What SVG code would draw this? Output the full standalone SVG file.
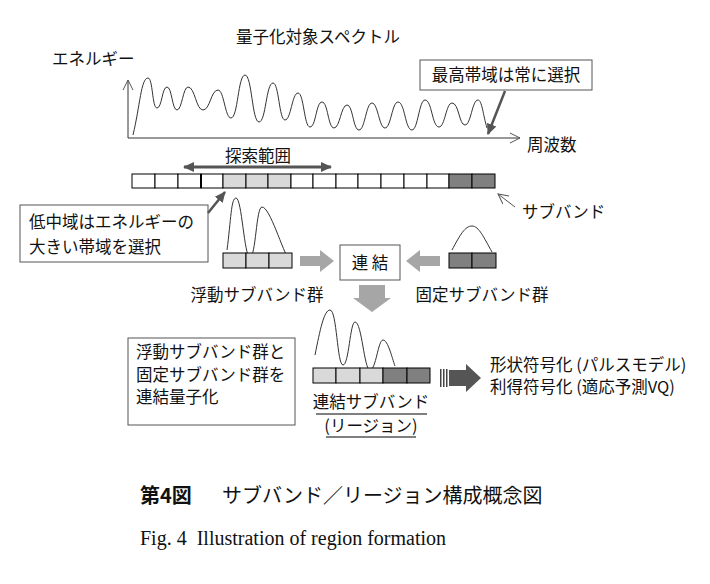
<svg xmlns="http://www.w3.org/2000/svg" width="710" height="584" viewBox="0 0 710 584">
<style>
text{font-family:"Noto Sans CJK JP","Liberation Sans",sans-serif;fill:#111}
.t{font-size:16.5px}
.w{fill:none;stroke:#333;stroke-width:1}
.c{stroke:#000;stroke-width:1}
.box{fill:#fff;stroke:#555;stroke-width:1}
.g1{fill:#d9d9d9}.g0{fill:#fff}.g2{fill:#808080}
.gy{fill:#a6a6a6}
</style>
<defs>
<marker id="oa" markerWidth="12" markerHeight="12" refX="10" refY="6" orient="auto" markerUnits="userSpaceOnUse"><path d="M0,1 L10,6 L0,11" fill="none" stroke="#555"/></marker>
<marker id="da" markerWidth="12" markerHeight="12" refX="10" refY="6" orient="auto-start-reverse" markerUnits="userSpaceOnUse"><path d="M0,1 L11,6 L0,11 Z" fill="#555"/></marker>
</defs>
<rect width="710" height="584" fill="#fff"/>
<g id="spectrum">
<text class="t" x="318" y="43" text-anchor="middle">量子化対象スペクトル</text>
<text class="t" x="52" y="65">エネルギー</text>
<text class="t" x="527" y="151">周波数</text>
<path d="M128,138 V80" class="w" stroke="#777" marker-end="url(#oa)"/>
<path d="M128,138 H520" class="w" stroke="#777" marker-end="url(#oa)"/>
<path class="w" d="M133,135 C140,106 141,78 148,78 C153,78 152,108 157,108 C162,108 162,87 167,87 C172,87 172,110 177,110 C182,110 183,87 188,87 C195,87 196,110 203,110 C210,110 211,90 218,90 C224,90 225,118 231,118 C238,118 238,75 245,75 C252,75 252,122 259,122 C266,122 266,83 273,83 C279,83 279,120 285,120 C291,120 292,93 298,93 C304,93 304,127 310,127 C316,127 316,102 322,102 C328,102 328,128 334,128 C340,128 341,105 347,105 C353,105 353,130 359,130 C365,130 366,103 372,103 C378,103 379,128 385,128 C391,128 392,102 398,102 C405,102 405,130 412,130 C418,130 419,100 425,100 C432,100 432,127 439,127 C445,127 446,103 452,103 C459,103 459,125 465,125 C471,125 472,100 478,100 C482,100 483,115 487,128"/>
</g>
<g id="callout-top">
<rect class="box" x="420" y="60" width="172" height="30"/>
<text class="t" x="506" y="81" text-anchor="middle">最高帯域は常に選択</text>
</g>
<g id="subband-bar">
<rect class="c g0" x="132" y="174" width="23" height="14"/><rect class="c g0" x="155" y="174" width="23" height="14"/><rect class="c g0" x="178" y="174" width="23" height="14"/><rect class="c g0" x="201" y="174" width="22" height="14"/>
<rect class="c g1" x="223" y="174" width="23" height="14"/><rect class="c g1" x="246" y="174" width="22" height="14"/><rect class="c g1" x="268" y="174" width="23" height="14"/>
<rect class="c g0" x="291" y="174" width="22" height="14"/><rect class="c g0" x="313" y="174" width="23" height="14"/><rect class="c g0" x="336" y="174" width="22" height="14"/><rect class="c g0" x="358" y="174" width="23" height="14"/><rect class="c g0" x="381" y="174" width="23" height="14"/><rect class="c g0" x="404" y="174" width="23" height="14"/><rect class="c g0" x="427" y="174" width="22" height="14"/>
<rect class="c g2" x="449" y="174" width="23" height="14"/><rect class="c g2" x="472" y="174" width="23" height="14"/>
<line x1="201" y1="174" x2="201" y2="188" stroke="#000" stroke-width="2"/>
<text class="t" x="258" y="162" text-anchor="middle">探索範囲</text>
<text class="t" x="522" y="218">サブバンド</text>
</g>
<g id="callout-left">
<rect class="box" x="20" y="205" width="188" height="57"/>
<text class="t" x="29" y="228">低中域はエネルギーの</text>
<text class="t" x="29" y="253">大きい帯域を選択</text>
</g>
<g id="floating">
<path class="w" d="M227,250 C231,220 231,198 236,198 C242,198 244,257 250,257 C256,257 256,207 262,207 C270,207 282,250 290,262"/>
<rect class="c g1" x="223" y="253" width="23" height="15"/><rect class="c g1" x="246" y="253" width="23" height="15"/><rect class="c g1" x="269" y="253" width="23" height="15"/>
<text class="t" x="257" y="301" text-anchor="middle">浮動サブバンド群</text>
</g>
<g id="fixed">
<path class="w" d="M452,250 C460,235 465,226 472,226 C479,226 484,238 492,252"/>
<rect class="c g2" x="449" y="253" width="23" height="15"/><rect class="c g2" x="472" y="253" width="24" height="15"/>
<text class="t" x="482" y="301" text-anchor="middle">固定サブバンド群</text>
</g>
<g id="concat">
<rect class="box" x="340" y="245" width="60" height="35" stroke="#333"/>
<text class="t" x="370" y="269" text-anchor="middle" font-size="18">連 結</text>
</g>
<g id="region">
<path class="w" d="M315,355 C320,330 324,310 330,310 C337,310 337,365 343,365 C349,365 350,322 355,322 C362,322 364,370 370,370 C376,370 378,340 383,340 C388,340 392,358 395,366"/>
<rect class="c g1" x="313" y="368" width="23" height="15"/><rect class="c g1" x="336" y="368" width="24" height="15"/><rect class="c g1" x="360" y="368" width="23" height="15"/><rect class="c g2" x="383" y="368" width="24" height="15"/><rect class="c g2" x="407" y="368" width="23" height="15"/>
<text class="t" x="371" y="408" text-anchor="middle">連結サブバンド</text>
<line x1="316" y1="414" x2="427" y2="414" stroke="#000"/>
<text class="t" x="371" y="432" text-anchor="middle">(リージョン)</text>
<line x1="326" y1="437" x2="416" y2="437" stroke="#000"/>
</g>
<g id="callout-bottom">
<rect class="box" x="128" y="338" width="167" height="87"/>
<text class="t" x="136" y="358">浮動サブバンド群と</text>
<text class="t" x="136" y="381">固定サブバンド群を</text>
<text class="t" x="136" y="403">連結量子化</text>
</g>
<g id="coding">
<text class="t" x="490" y="371">形状符号化 (パルスモデル)</text>
<text class="t" x="490" y="393">利得符号化 (適応予測VQ)</text>
</g>
<g id="connectors">
<line x1="184" y1="167" x2="331" y2="167" stroke="#555" stroke-width="3" marker-start="url(#da)" marker-end="url(#da)"/>
<line x1="505" y1="91" x2="488" y2="134" stroke="#555" stroke-width="2.5" marker-end="url(#da)"/>
<line x1="208" y1="213" x2="225" y2="192" stroke="#555" stroke-width="2.5" marker-end="url(#da)"/>
<line x1="515" y1="207" x2="498" y2="194" stroke="#555" marker-end="url(#oa)"/>
<path class="gy" d="M300,256 H320 V250 L334,261 L320,272 V266 H300 Z"/>
<path class="gy" d="M440,256 H420 V250 L406,261 L420,272 V266 H440 Z"/>
<path class="gy" d="M359,285 H385 V298 H391 L372,312 L353,298 H359 Z"/>
<rect x="440" y="369" width="1.5" height="18" fill="#444"/><rect x="443" y="369" width="1.5" height="18" fill="#444"/><rect x="446" y="369" width="1.5" height="18" fill="#444"/>
<path d="M449,370 H466 V364 L481,378 L466,392 V386 H449 Z" fill="#555"/>
</g>
<g id="caption">
<text x="140" y="503" font-size="20" font-weight="bold" style="font-family:'Noto Sans CJK JP',sans-serif">第4図</text>
<text x="222" y="503" font-size="20" style="font-family:'Noto Sans CJK JP',serif">サブバンド／リージョン構成概念図</text>
<text x="140" y="545" font-size="20" xml:space="preserve" style="font-family:'Liberation Serif',serif">Fig. 4  Illustration of region formation</text>
</g>
</svg>
